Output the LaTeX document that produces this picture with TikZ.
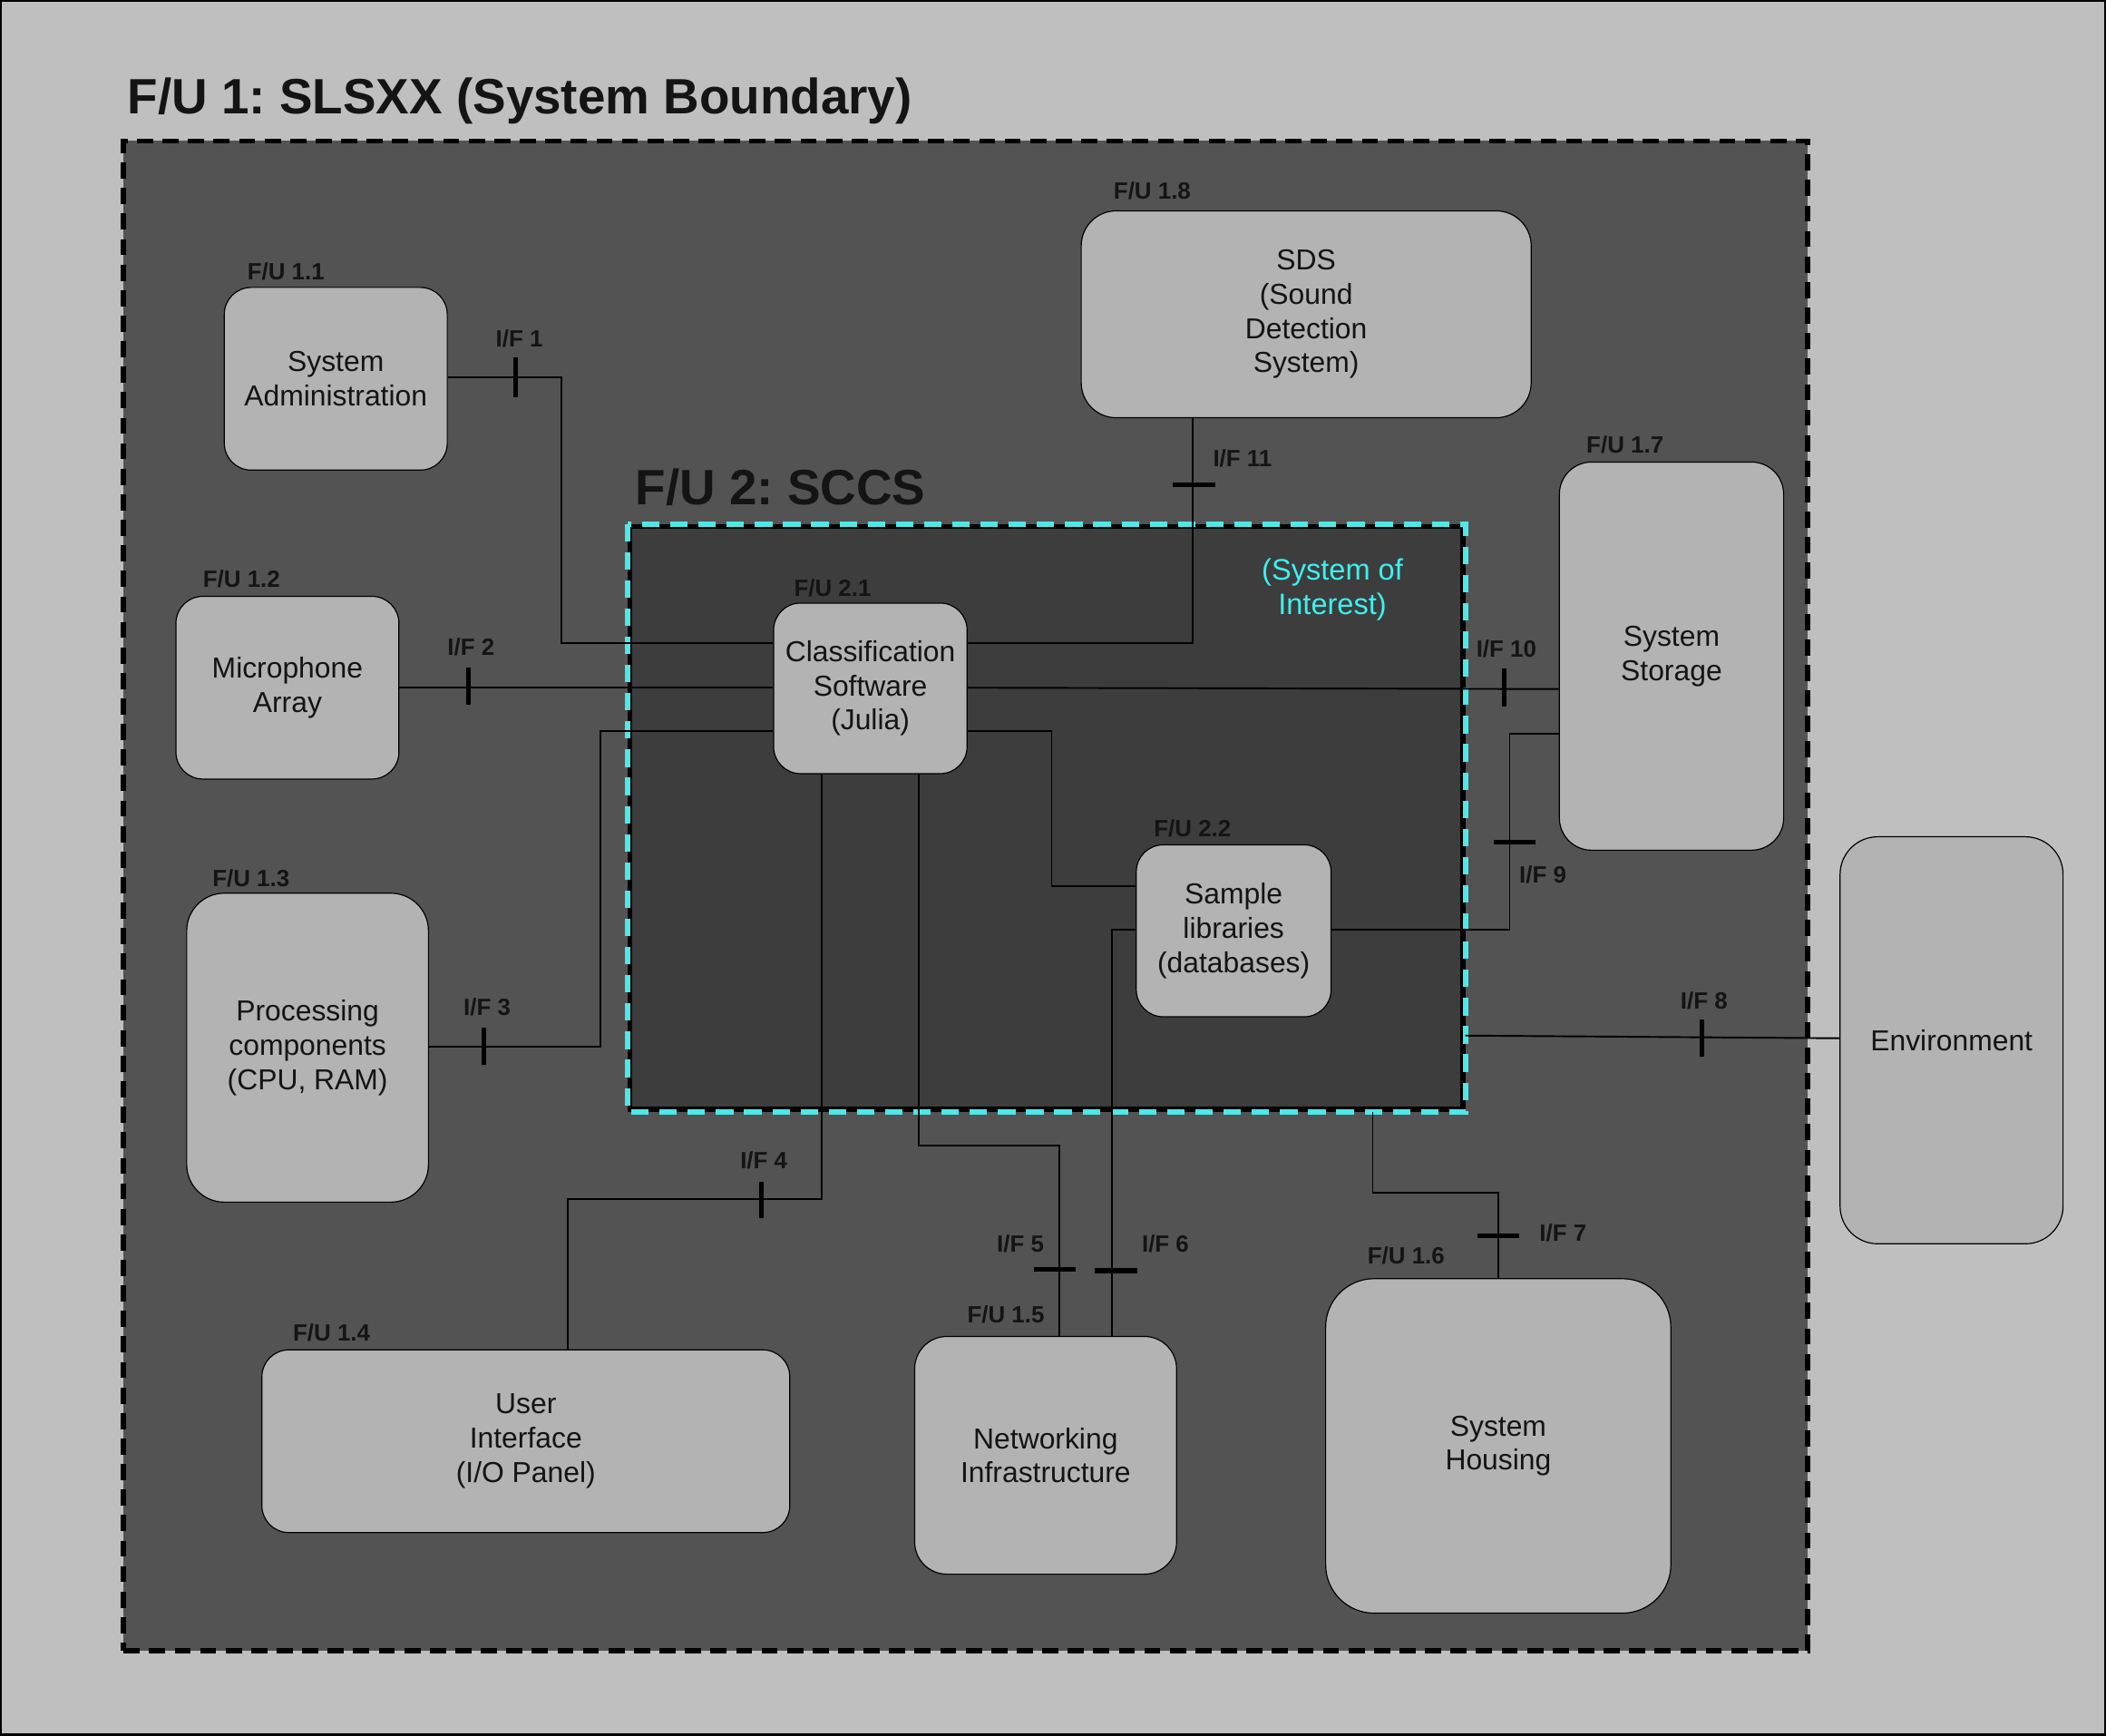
\documentclass[tikz,border=0pt]{standalone}
\usepackage{fontspec}
\setmainfont{Liberation Sans}
\frenchspacing
\definecolor{bgc}{RGB}{191,191,191}
\definecolor{outerc}{RGB}{83,83,83}
\definecolor{innerc}{RGB}{61,61,61}
\definecolor{boxc}{RGB}{179,179,179}
\definecolor{cyanc}{RGB}{77,232,232}
\definecolor{cyantxt}{RGB}{60,240,240}
\definecolor{txt}{RGB}{20,20,20}
\pgfdeclarelayer{back}
\pgfdeclarelayer{mid}
\pgfsetlayers{back,mid,main}
\tikzset{
  box/.style={draw=black, line width=0.8pt, fill=boxc, rounded corners=#1, align=center,
    inner sep=0pt, font=\fontsize{21.5}{25.5}\selectfont, text=txt},
  box/.default=20pt,
  fulabel/.style={anchor=west, inner sep=0pt, font=\fontsize{17.5}{20}\selectfont\bfseries, text=txt},
  conn/.style={draw=black, line width=1.3pt},
  ifmark/.style={draw=black, line width=3.5pt},
  bigtitle/.style={anchor=west, inner sep=0pt, font=\fontsize{37}{44}\selectfont\bfseries, text=txt}
}
\begin{document}
\begin{tikzpicture}[x=1pt,y=-1pt]
\useasboundingbox (0,0) rectangle (1568,1292);
\begin{pgfonlayer}{back}
% background
\fill[bgc] (0,0) rectangle (1568,1292);
\draw[black, line width=3pt] (0,0) rectangle (1568,1292);
% outer system boundary
\node[draw=black, fill=outerc, line width=4pt, dash pattern=on 12pt off 7pt, minimum width=1254pt, minimum height=1124pt, inner sep=0pt] (slsxx) at (719,667) {};
% inner system of interest
\node[draw=black, fill=innerc, line width=4pt, minimum width=620pt, minimum height=434pt, inner sep=0pt] (sccs) at (779,609) {};
\draw[cyanc, line width=4pt, dash pattern=on 13pt off 8pt] (sccs.north west) rectangle (sccs.south east);
\end{pgfonlayer}
\node[bigtitle] (t1) at (95,75) {F/U 1: SLSXX (System Boundary)};
\node[bigtitle] (t2) at (473,363) {F/U 2: SCCS};
\node[align=center, text=cyantxt, font=\fontsize{22}{26}\selectfont, inner sep=0pt] (soi) at (992,439) {(System of\\Interest)};

% boxes
\node[box, minimum width=166pt, minimum height=136pt] (sa) at (250,282) {System\\Administration};
\node[box, minimum width=166pt, minimum height=136pt] (mic) at (214,512) {Microphone\\Array};
\node[box=28pt, minimum width=180pt, minimum height=230pt] (proc) at (229,780) {Processing\\components\\(CPU, RAM)};
\node[box, minimum width=393pt, minimum height=136pt] (ui) at (391.5,1073) {User\\Interface\\(I/O Panel)};
\node[box=24pt, minimum width=195pt, minimum height=177pt] (net) at (778.5,1083.5) {Networking\\Infrastructure};
\node[box=36pt, minimum width=257pt, minimum height=249pt] (hous) at (1115.5,1076.5) {System\\Housing};
\node[box=24pt, minimum width=167pt, minimum height=289pt] (stor) at (1244.5,488.5) {System\\Storage};
\node[box=26pt, minimum width=335pt, minimum height=154pt] (sds) at (972.5,234) {SDS\\(Sound\\Detection\\System)};
\node[box, minimum width=144pt, minimum height=127pt] (cls) at (648,512.5) {Classification\\Software\\(Julia)};
\node[box, minimum width=145pt, minimum height=128pt] (lib) at (918.5,693) {Sample\\libraries\\(databases)};
\node[box=28pt, minimum width=166pt, minimum height=303pt] (env) at (1453,774.5) {Environment};

% junction coordinates
\coordinate (j1) at (418,479);
\coordinate (j3) at (447,544);
\coordinate (j4a) at (612,893);
\coordinate (j4b) at (423,893);
\coordinate (j5a) at (684,853);
\coordinate (j5b) at (789,853);
\coordinate (j6) at (828,692);
\coordinate (j7a) at (1022,888);
\coordinate (j7b) at (1115.5,888);
\coordinate (j8) at (1089,771);
\coordinate (j9a) at (1124,692);
\coordinate (j9b) at (1124,546);
\coordinate (j11) at (888,479);
\coordinate (j12a) at (783,544);
\coordinate (j12b) at (783,660);

% connectors (behind the boxes)
\begin{pgfonlayer}{mid}
\draw[conn] (sa.east |- 0,281) -| (j1) -- (j1 -| cls.west);
\draw[conn] (mic.east |- 0,512) -- (cls.west |- 0,512);
\draw[conn] (proc.east |- 0,779) -| (j3) -- (j3 -| cls.west);
\draw[conn] (cls.south -| j4a) -- (j4a) -- (j4b) -- (j4b |- ui.north);
\draw[conn] (cls.south -| j5a) -- (j5a) -- (j5b) -- (j5b |- net.north);
\draw[conn] (j6 -| lib.west) -- (j6) -- (j6 |- net.north);
\draw[conn] (sccs.south -| j7a) -- (j7a) -- (j7b) -- (hous.north);
\draw[conn] (sccs.east |- j8) -- (env.west |- 0,773);
\draw[conn] (j9a -| lib.east) -- (j9a) -- (j9b) -- (j9b -| stor.west);
\draw[conn] (cls.east |- 0,512) -- (stor.west |- 0,513);
\draw[conn] (sds.south -| j11) -- (j11) -- (j11 -| cls.east);
\draw[conn] (cls.east |- j12a) -- (j12a) -- (j12b) -- (j12b -| lib.west);
\end{pgfonlayer}

% interface marks
\draw[ifmark] (384,266) -- (384,296);
\draw[ifmark] (349,497) -- (349,525);
\draw[ifmark] (360,765) -- (360,793);
\draw[ifmark] (567,880) -- (567,907);
\draw[ifmark] (770,945) -- (801,945);
\draw[ifmark] (815,946) -- (847,946);
\draw[ifmark] (1100,920) -- (1131,920);
\draw[ifmark] (1267,759) -- (1267,787);
\draw[ifmark] (1112,627) -- (1143,627);
\draw[ifmark] (1120,498) -- (1120,526);
\draw[ifmark] (873,361) -- (905,361);

% F/U labels
\node[fulabel] (l11) at (184,202) {F/U 1.1};
\node[fulabel] (l12) at (151,431) {F/U 1.2};
\node[fulabel] (l13) at (158,654) {F/U 1.3};
\node[fulabel] (l14) at (218,992) {F/U 1.4};
\node[fulabel] (l15) at (720,979) {F/U 1.5};
\node[fulabel] (l16) at (1018,935) {F/U 1.6};
\node[fulabel] (l17) at (1181,331) {F/U 1.7};
\node[fulabel] (l18) at (829,142) {F/U 1.8};
\node[fulabel] (l21) at (591,438) {F/U 2.1};
\node[fulabel] (l22) at (859,617) {F/U 2.2};
% I/F labels
\node[fulabel] (i1) at (369,252) {I/F 1};
\node[fulabel] (i2) at (333,482) {I/F 2};
\node[fulabel] (i3) at (345,750) {I/F 3};
\node[fulabel] (i4) at (551,864) {I/F 4};
\node[fulabel] (i5) at (742,926) {I/F 5};
\node[fulabel] (i6) at (850,926) {I/F 6};
\node[fulabel] (i7) at (1146,918) {I/F 7};
\node[fulabel] (i8) at (1251,745) {I/F 8};
\node[fulabel] (i9) at (1131,651) {I/F 9};
\node[fulabel] (i10) at (1099,483) {I/F 10};
\node[fulabel] (i11) at (903,341) {I/F 11};
\end{tikzpicture}
\end{document}
